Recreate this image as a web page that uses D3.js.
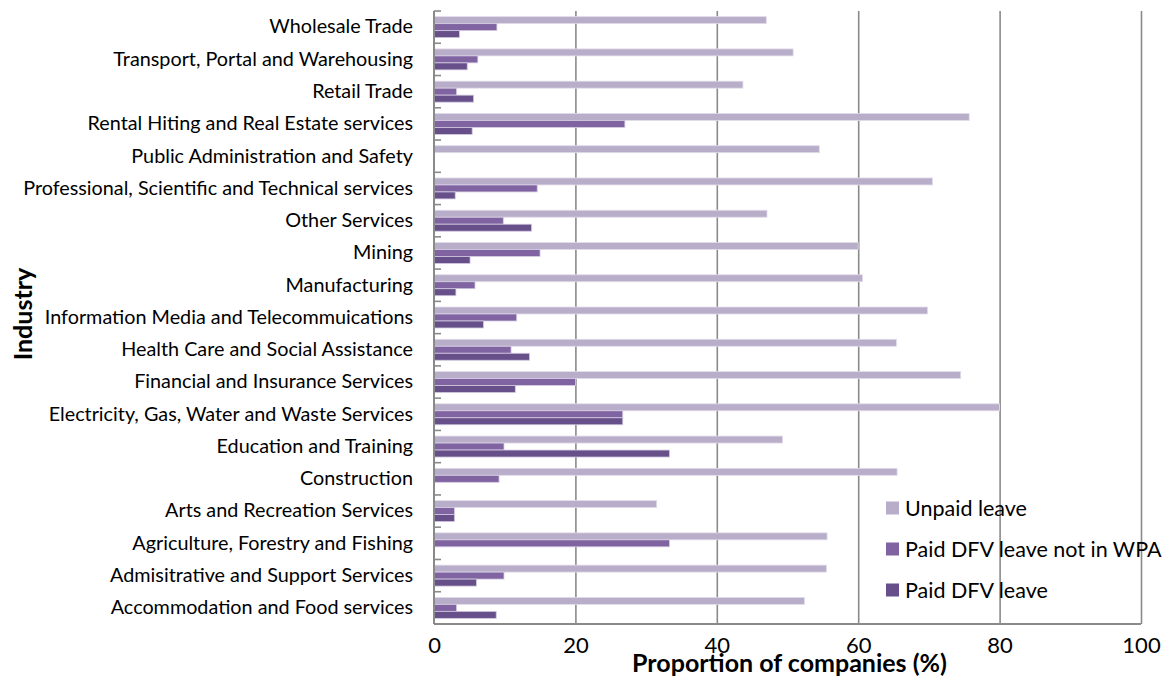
<!DOCTYPE html>
<html>
<head>
<meta charset="utf-8">
<script src="https://cdn.jsdelivr.net/npm/d3@7"></script>
<style>
  html, body { margin: 0; padding: 0; background: #fff; }
  svg { display: block; font-family: Lato, "Open Sans", sans-serif; }
</style>
</head>
<body>
<svg id="chart" width="1170" height="691"></svg>
<script>
// Industries, listed top to bottom as drawn
const categories = [
  "Wholesale Trade",
  "Transport, Portal and Warehousing",
  "Retail Trade",
  "Rental Hiting and Real Estate services",
  "Public Administration and Safety",
  "Professional, Scientific and Technical services",
  "Other Services",
  "Mining",
  "Manufacturing",
  "Information Media and Telecommuications",
  "Health Care and Social Assistance",
  "Financial and Insurance Services",
  "Electricity, Gas, Water and Waste Services",
  "Education and Training",
  "Construction",
  "Arts and Recreation Services",
  "Agriculture, Forestry and Fishing",
  "Admisitrative and Support Services",
  "Accommodation and Food services"
];

// Proportion of companies (%) offering each kind of leave
const unpaidLeave   = [47.0, 50.8, 43.7, 75.7, 54.5, 70.5, 47.1, 60.0, 60.6, 69.8, 65.4, 74.5, 80.0, 49.3, 65.5, 31.5, 55.6, 55.5, 52.4];
const paidNotInWPA  = [8.9, 6.2, 3.2, 27.0, 0, 14.6, 9.8, 15.0, 5.8, 11.7, 10.9, 20.0, 26.7, 9.9, 9.2, 2.9, 33.3, 9.9, 3.2];
const paidDFVLeave  = [3.6, 4.7, 5.6, 5.4, 0, 3.0, 13.8, 5.1, 3.1, 7.0, 13.5, 11.5, 26.7, 33.3, 0, 2.9, 0, 6.0, 8.8];

const seriesNames = ["Unpaid leave", "Paid DFV leave not in WPA", "Paid DFV leave"];
const seriesValues = [unpaidLeave, paidNotInWPA, paidDFVLeave];
const xTicks = [0, 20, 40, 60, 80, 100];

const colors = ["#b9aeca", "#8064a2", "#67508a"];
const edge = ["#e2dcea", "#d6cde3", "#d2c9df"];

const svg = d3.select("#chart");
const plot = { left: 434, right: 1141, top: 11, bottom: 624 };

const x = d3.scaleLinear().domain([0, 100]).range([plot.left, plot.right]);
const y0 = d3.scaleBand().domain(categories).range([plot.top, plot.bottom])
  .paddingInner(0.35).paddingOuter(0.175);
const y1 = d3.scaleBand().domain(seriesNames).range([0, y0.bandwidth()]);

const gridColor = "#8a8a8a";

// vertical gridlines
svg.append("g")
  .attr("transform", `translate(0,${plot.bottom})`)
  .call(d3.axisBottom(x).tickValues(xTicks.slice(1)).tickSize(-(plot.bottom - plot.top)).tickFormat(""))
  .call(g => g.select(".domain").remove())
  .call(g => g.selectAll("line").attr("stroke", gridColor).attr("stroke-width", 1.6));

// bars
const rows = categories.map((c, i) => ({ c, vals: seriesNames.map((s, k) => ({ s, k, v: seriesValues[k][i] })) }));
const rowG = svg.append("g").selectAll("g").data(rows).join("g")
  .attr("transform", d => `translate(0,${y0(d.c)})`);
rowG.selectAll("rect").data(d => d.vals.filter(v => v.v > 0)).join("rect")
  .attr("x", x(0))
  .attr("y", d => y1(d.s))
  .attr("width", d => x(d.v) - x(0))
  .attr("height", y1.bandwidth())
  .attr("fill", d => colors[d.k])
  .attr("stroke", d => edge[d.k])
  .attr("stroke-width", 0.8);

// x axis: baseline and tick labels
const xAxis = svg.append("g")
  .attr("transform", `translate(0,${plot.bottom})`)
  .call(d3.axisBottom(x).tickValues(xTicks).tickSize(0).tickPadding(13))
  .call(g => g.select(".domain").attr("stroke", gridColor).attr("stroke-width", 2).attr("d", `M${plot.left},0H${plot.right}`));
xAxis.selectAll("text").attr("font-family", "Lato, sans-serif").attr("font-size", 22).attr("fill", "#000");

// y axis: line, category boundary ticks, labels
const yAxis = svg.append("g")
  .attr("transform", `translate(${plot.left},0)`)
  .call(d3.axisLeft(y0).tickSize(0).tickPadding(21))
  .call(g => g.select(".domain").attr("stroke", gridColor).attr("stroke-width", 2).attr("d", `M0,${plot.top}V${plot.bottom}`));
yAxis.selectAll("text").attr("font-family", "Lato, sans-serif").attr("font-size", 18).attr("fill", "#000");

const boundaries = d3.range(categories.length + 1).map(i => plot.top + i * y0.step());
yAxis.append("g").selectAll("line").data(boundaries).join("line")
  .attr("x1", 0).attr("x2", 7).attr("y1", d => d).attr("y2", d => d)
  .attr("stroke", gridColor).attr("stroke-width", 1.6);

// fit category labels to the space left of the axis
const longest = yAxis.selectAll("text").nodes().reduce((m, n) => Math.max(m, n.getComputedTextLength()), 0);
yAxis.selectAll("text").attr("font-size", 18 * 390 / longest);

// axis titles
svg.append("text")
  .attr("x", (plot.left + plot.right) / 2 + 2).attr("y", 672)
  .attr("text-anchor", "middle")
  .attr("font-family", "Lato, sans-serif").attr("font-weight", "bold").attr("font-size", 25)
  .text("Proportion of companies (%)");

svg.append("text")
  .attr("transform", "translate(32,314) rotate(-90)")
  .attr("text-anchor", "middle")
  .attr("font-family", "Lato, sans-serif").attr("font-weight", "bold").attr("font-size", 25)
  .text("Industry");

// legend
const legend = svg.append("g").attr("transform", "translate(886,0)");
const legendY = [508, 549, 590];
seriesNames.forEach((s, k) => {
  legend.append("rect").attr("x", 0).attr("y", legendY[k] - 6.5).attr("width", 13).attr("height", 13).attr("fill", colors[k]);
  legend.append("text").attr("x", 19).attr("y", legendY[k]).attr("dy", "0.35em")
    .attr("font-family", "Lato, sans-serif").attr("font-size", 21.5).attr("fill", "#000").text(s);
});
</script>
</body>
</html>
